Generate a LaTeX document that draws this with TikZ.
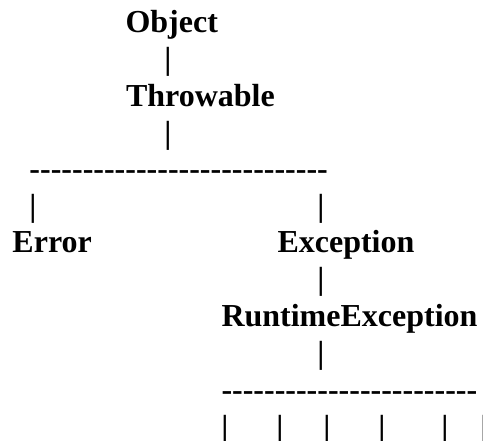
\documentclass[tikz,border=0pt]{standalone}
\usepackage{fontspec}
\setmainfont{Liberation Serif}
\newcommand\hyrun[1]{\foreach \i in {1,...,#1}{-\kern0pt}}
\begin{document}
\begin{tikzpicture}[x=1pt,y=-1pt,
  txt/.style={anchor=base west,inner sep=0pt,outer sep=0pt,font=\fontsize{32}{32}\selectfont\bfseries},
  bar/.style={anchor=base,inner sep=0pt,outer sep=0pt,font=\fontsize{32}{32}\selectfont\bfseries}]
\useasboundingbox (0,0) rectangle (483,441);
\node[txt] (object) at (125.5,33) {Object};
\node[bar] (b1) at (168,70) {|};
\node[txt] (throwable) at (126,107) {Throwable};
\node[bar] (b2) at (168,144) {|};
\node[txt] (dash1) at (29.5,180) {\hyrun{28}};
\node[bar] (b3) at (33,217) {|};
\node[bar] (b4) at (321,217) {|};
\node[txt] (error) at (12.5,253) {Error};
\node[txt] (exception) at (277.5,253) {Exception};
\node[bar] (b5) at (321,290) {|};
\node[txt] (runtime) at (221.5,327) {RuntimeException};
\node[bar] (b6) at (321,364) {|};
\node[txt] (dash2) at (221.5,401) {\hyrun{24}};
\node[bar] (c1) at (225,438) {|};
\node[bar] (c2) at (280,438) {|};
\node[bar] (c3) at (327,438) {|};
\node[bar] (c4) at (382,438) {|};
\node[bar] (c5) at (445,438) {|};
\node[bar] (c6) at (484,438) {|};
\end{tikzpicture}
\end{document}
